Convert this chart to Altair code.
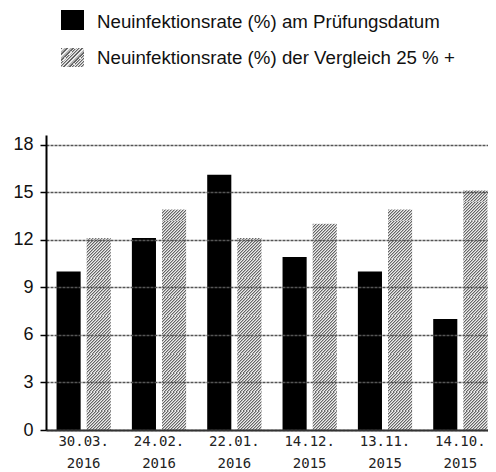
import math
import altair as alt
import pandas as pd

# ---- data ----
dates = ["30.03. 2016", "24.02. 2016", "22.01. 2016", "14.12. 2015", "13.11. 2015", "14.10. 2015"]
series_names = ["Neuinfektionsrate (%) am Prüfungsdatum",
                "Neuinfektionsrate (%) der Vergleich 25 % +"]
rate_at_date = [10.0, 12.1, 16.1, 10.9, 10.0, 7.0]
rate_compare = [12.1, 13.9, 12.1, 13.0, 13.9, 15.1]
y_ticks = [0, 3, 6, 9, 12, 15, 18]

# ---- layout / style ----
W_PLOT, H_PLOT = 442, 295
X_RANGE = 452          # band layout continues a little past the visible edge
Y_MAX = 18.6
PPU = H_PLOT / Y_MAX
BAR_W = 24.1
TILE = 1.2  # hatch tile height in data units (~19 px, as in the reference)
HATCH_COLORS = ["#666666", "#b4b4b4", "#ededed"]


def hatch(w, h, q=3.0):
    """Diagonal '///' hatch as a sharp-stop linear gradient (bbox units)."""
    n = max(1, math.ceil((w + h) / q))
    length = n * q
    k = length / (w * w + h * h)
    m = len(HATCH_COLORS)
    stops = []
    for i in range(n):
        for j, col in enumerate(HATCH_COLORS):
            a = (i + j / m) / n
            b = (i + (j + 1) / m) / n
            stops += [{"offset": round(a, 6), "color": col},
                      {"offset": round(b, 6), "color": col}]
    return {"gradient": "linear", "x1": 0, "y1": 0,
            "x2": round(k * w, 6), "y2": round(k * h, 6), "stops": stops}


# solid series
df_a = pd.DataFrame({"date": dates, "series": "A", "value": rate_at_date})

# hatched series, cut into tiles (pattern tiles of the reference)
seg_rows = []
for d, v in zip(dates, rate_compare):
    lo = 0.0
    while lo < v - 1e-9:
        hi = min(lo + TILE, v)
        seg_rows.append({"date": d, "series": "B", "lo": lo, "hi": hi,
                         "top": bool(hi >= v - 1e-9 and (hi - lo) < TILE - 1e-9)})
        lo = hi
df_b = pd.DataFrame(seg_rows)

conds = []
for d, v in zip(dates, rate_compare):
    rem = v - TILE * math.floor(v / TILE + 1e-9)
    if rem > 1e-9:
        conds.append({"test": f"datum.top && datum.date === '{d}'",
                      "value": hatch(BAR_W, rem * PPU)})
fill_b = {"condition": conds, "value": hatch(BAR_W, TILE * PPU)}

x_enc = alt.X("date:N", sort=dates,
              scale=alt.Scale(range=[0, X_RANGE], paddingInner=0.28, paddingOuter=0.14),
              axis=alt.Axis(title=None, ticks=False, labelAngle=0,
                            labelFont="DejaVu Sans Mono", labelFontSize=14,
                            labelLineHeight=22, labelPadding=4,
                            labelColor="#222", domainColor="#333",
                            domainWidth=2, grid=False, zindex=1,
                            labelExpr="split(datum.label, ' ')"))
xo_enc = alt.XOffset("series:N",
                     scale=alt.Scale(domain=["A", "B"], paddingInner=0.2, paddingOuter=0))
y_scale = alt.Scale(domain=[0, Y_MAX], nice=False)
y_axis = alt.Axis(title=None, values=y_ticks, grid=True,
                  gridDash=[3, 1], gridColor="#555", gridWidth=1.5,
                  domainColor="#000", domainWidth=2,
                  tickColor="#000", tickSize=6, tickWidth=1.5,
                  labelFont="Liberation Sans", labelFontSize=18,
                  labelColor="#111", labelPadding=7, zindex=1)

bars_a = alt.Chart(df_a).mark_bar(fill="#000000", stroke=None).encode(
    x=x_enc, xOffset=xo_enc,
    y=alt.Y("value:Q", scale=y_scale, axis=y_axis),
)

bars_b = alt.Chart(df_b).mark_bar(stroke=None).encode(
    x=x_enc, xOffset=xo_enc,
    y=alt.Y("lo:Q", scale=y_scale, axis=y_axis),
    y2="hi:Q",
    fill=fill_b,
)

# ---- manual legend ----
leg_df = pd.DataFrame({"idx": [0, 1], "label": series_names})
leg_fills = ["#000000", hatch(23, 19)]
leg_rect_y = [(-125, -105), (-87, -68)]
leg_text_y = [-107.5, -71]

legend_layers = []
for i in range(2):
    base = alt.Chart(leg_df).transform_filter(f"datum.idx == {i}")
    legend_layers.append(
        base.mark_rect(fill=leg_fills[i]).encode(
            x=alt.value(15), x2=alt.value(38),
            y=alt.value(leg_rect_y[i][0]), y2=alt.value(leg_rect_y[i][1]))
    )
    legend_layers.append(
        base.mark_text(align="left", baseline="alphabetic",
                       font="Liberation Sans", fontSize=18.7,
                       color="#111").encode(
            x=alt.value(51), y=alt.value(leg_text_y[i]), text="label:N")
    )

chart = alt.layer(bars_a, bars_b, *legend_layers).properties(
    width=W_PLOT, height=H_PLOT,
    autosize=alt.AutoSizeParams(type="none"),
    padding={"left": 38, "top": 127, "right": 0, "bottom": 40},
    background="white",
).configure_view(stroke=None)

chart.save("out.html", embed_options={"renderer": "svg", "actions": False})
